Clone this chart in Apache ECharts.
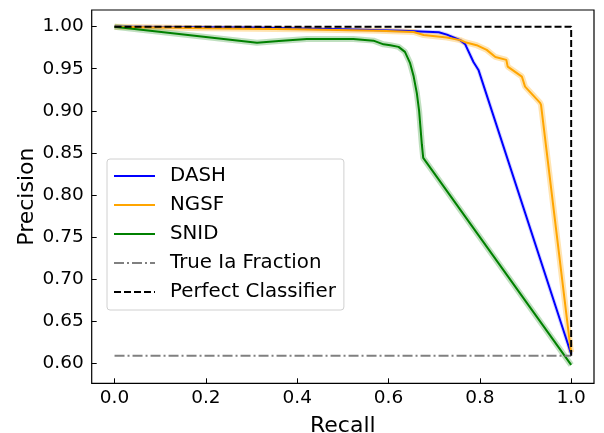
<!DOCTYPE html>
<html><head><meta charset="utf-8">
<script src="https://cdn.jsdelivr.net/npm/echarts@6/dist/echarts.min.js"></script>
<style>html,body{margin:0;padding:0;background:#fff}#c{width:604px;height:433px}</style>
</head><body><div id="c"></div>
<script>
const dashX = [0, 0.1, 0.3, 0.5, 0.63, 0.71, 0.728, 0.757, 0.768, 0.786, 0.797, 1.0];
const dashY = [1.0, 0.9995, 0.999, 0.997, 0.995, 0.9934, 0.9905, 0.984, 0.979, 0.958, 0.9486, 0.611];
const ngsfX = [0, 0.2, 0.4, 0.58, 0.655, 0.677, 0.728, 0.757, 0.768, 0.793, 0.815, 0.834, 0.858, 0.861, 0.892, 0.899, 0.932, 0.934, 0.998, 1.0];
const ngsfY = [1.0, 0.998, 0.997, 0.995, 0.9937, 0.990, 0.987, 0.984, 0.9815, 0.978, 0.9724, 0.964, 0.9605, 0.9525, 0.9407, 0.9288, 0.9095, 0.907, 0.62, 0.613];
const snidX = [0, 0.312, 0.36, 0.421, 0.523, 0.567, 0.589, 0.604, 0.622, 0.636, 0.647, 0.655, 0.662, 0.667, 0.670, 0.673, 0.676, 1.0];
const snidY = [1.0, 0.981, 0.983, 0.9854, 0.9854, 0.9834, 0.979, 0.978, 0.976, 0.970, 0.957, 0.941, 0.921, 0.900, 0.880, 0.860, 0.844, 0.598];
const trueIaX = [0, 1.0];
const trueIaY = [0.609, 0.609];
const perfectX = [0, 1.0, 1.0];
const perfectY = [1.0, 1.0, 0.609];
const xTickValues = [0, 0.2, 0.4, 0.6, 0.8, 1.0];
const xTickLabels = ['0.0', '0.2', '0.4', '0.6', '0.8', '1.0'];
const yTickValues = [0.60, 0.65, 0.70, 0.75, 0.80, 0.85, 0.90, 0.95, 1.00];
const yTickLabels = ['0.60', '0.65', '0.70', '0.75', '0.80', '0.85', '0.90', '0.95', '1.00'];
const legendNames = ['DASH', 'NGSF', 'SNID', 'True Ia Fraction', 'Perfect Classifier'];

const zip = (xs, ys) => xs.map((x, i) => [x, ys[i]]);
const font = 'DejaVu Sans';
function labelFor(vals, labs) {
  return v => { for (let i = 0; i < vals.length; i++) if (Math.abs(vals[i] - v) < 1e-6) return labs[i]; return ''; };
}
function line(name, data, color, width, type, z) {
  return { name, type: 'line', data, showSymbol: false, symbol: 'none', z: z,
    lineStyle: { color, width, type: type || 'solid' }, itemStyle: { color }, animation: false };
}
function band(data, color, width, opacity) {
  return { name: '_band', type: 'line', data, showSymbol: false, symbol: 'none', z: 1, silent: true,
    lineStyle: { color, width, opacity }, animation: false };
}
const chart = echarts.init(document.getElementById('c'), null, { renderer: 'canvas' });
chart.setOption({
  backgroundColor: '#fff',
  animation: false,
  grid: { left: 91.7, top: 10, right: 10, bottom: 49.7, outerBoundsMode: 'none', containLabel: false,
    show: true, borderColor: '#000', borderWidth: 1.2, backgroundColor: 'transparent' },
  xAxis: {
    type: 'value', min: -0.05, max: 1.05,
    name: 'Recall', nameLocation: 'middle', nameGap: 31.5, nameMoveOverlap: false,
    nameTextStyle: { fontFamily: font, fontSize: 22, color: '#000' },
    axisLine: { show: false, onZero: false },
    splitLine: { show: false },
    axisTick: { show: true, inside: true, length: 5, lineStyle: { color: '#000', width: 1 }, customValues: xTickValues },
    axisLabel: { fontFamily: font, fontSize: 18.5, color: '#000', margin: 5, customValues: xTickValues, formatter: labelFor(xTickValues, xTickLabels) }
  },
  yAxis: {
    type: 'value', min: 0.5762, max: 1.0198,
    name: 'Precision', nameLocation: 'middle', nameGap: 53, nameMoveOverlap: false,
    nameTextStyle: { fontFamily: font, fontSize: 22, color: '#000' },
    axisLine: { show: false, onZero: false },
    splitLine: { show: false },
    axisTick: { show: true, inside: true, length: 5, lineStyle: { color: '#000', width: 1 }, customValues: yTickValues },
    axisLabel: { fontFamily: font, fontSize: 18.5, color: '#000', margin: 8, customValues: yTickValues, formatter: labelFor(yTickValues, yTickLabels) }
  },
  legend: {
    data: legendNames, orient: 'vertical', left: 107, top: 159,
    padding: [7, 8, 8, 6], itemGap: 9, itemWidth: 41, itemHeight: 14,
    backgroundColor: 'rgba(255,255,255,0.8)', borderColor: '#d0d0d0', borderWidth: 1, borderRadius: 3,
    itemStyle: { opacity: 0 },
    textStyle: { fontFamily: font, fontSize: 19.8, color: '#000', lineHeight: 20, padding: [0, 0, 0, 10] }
  },
  series: [
    band(zip(dashX, dashY), '#0000ff', 4, 0.15),
    band(zip(ngsfX, ngsfY), '#ffa500', 6, 0.3),
    band(zip(snidX, snidY), '#008000', 6, 0.25),
    line('DASH', zip(dashX, dashY), '#0000ff', 2, 'solid', 3),
    line('NGSF', zip(ngsfX, ngsfY), '#ffa500', 2, 'solid', 4),
    line('SNID', zip(snidX, snidY), '#008000', 2, 'solid', 5),
    line('True Ia Fraction', zip(trueIaX, trueIaY), '#808080', 2, [10, 3, 2, 3], 6),
    line('Perfect Classifier', zip(perfectX, perfectY), '#000000', 2, [7, 3], 7)
  ]
});
</script></body></html>
